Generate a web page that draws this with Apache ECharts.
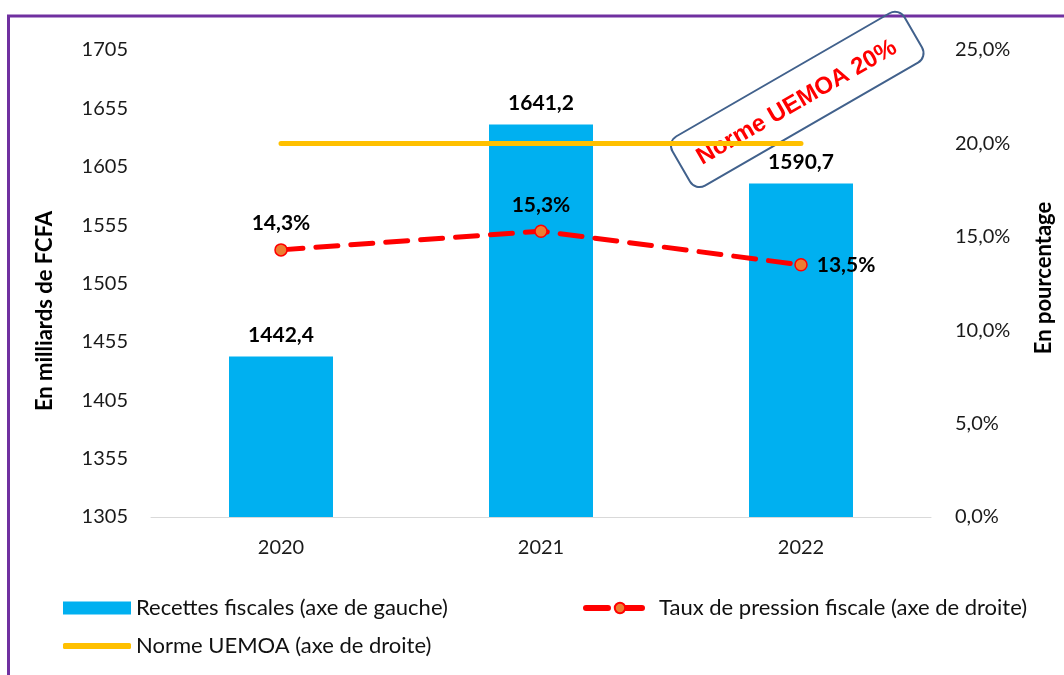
<!DOCTYPE html>
<html>
<head>
<meta charset="utf-8">
<script src="https://cdn.jsdelivr.net/npm/echarts@6/dist/echarts.min.js"></script>
<style>
  html, body { margin: 0; padding: 0; background: #fff; }
  #chart { width: 1064px; height: 675px; }
</style>
</head>
<body>
<div id="chart"></div>
<script>
var years = ['2020', '2021', '2022'];
var recettes = [1442.4, 1641.2, 1590.7];
var taux = [14.3, 15.3, 13.5];
var norme = [20, 20, 20];
var tauxLabelPos = ['top', 'top', 'right'];

var fr = function (v, d) { return v.toFixed(d).replace('.', ','); };

var chart = echarts.init(document.getElementById('chart'));
var font = 'Lato, "Liberation Sans", sans-serif';

var option = {
    textStyle: { fontFamily: font },
    animation: false,
    grid: { left: 151, right: 133, top: 50, bottom: 158 },
    legend: [{
        data: [{ name: 'Recettes fiscales (axe de gauche)', icon: 'rect' }],
        left: 63, top: 597, padding: 0, itemWidth: 68, itemHeight: 13, itemGap: 8,
        textStyle: { fontSize: 22, color: '#111', fontFamily: font }
    }, {
        data: ['Taux de pression fiscale (axe de droite)'],
        left: 583, top: 597, padding: 0, itemWidth: 68, itemHeight: 13, itemGap: 8,
        lineStyle: { width: 6, type: [22, 12], cap: 'round' },
        textStyle: { fontSize: 22, color: '#111', fontFamily: font }
    }, {
        data: [{ name: 'Norme UEMOA (axe de droite)', icon: 'roundRect' }],
        left: 63, top: 635, padding: 0, itemWidth: 68, itemHeight: 6, itemGap: 8,
        textStyle: { fontSize: 22, color: '#111', fontFamily: font }
    }],
    xAxis: {
        type: 'category',
        data: years,
        axisLine: { lineStyle: { color: '#d9d9d9', width: 1 } },
        axisTick: { show: false },
        axisLabel: { fontSize: 20, color: '#1a1a1a', margin: 21 }
    },
    yAxis: [{
        type: 'value', min: 1305, max: 1705, interval: 50,
        axisLine: { show: false }, axisTick: { show: false },
        splitLine: { show: false },
        axisLabel: { fontSize: 20, color: '#1a1a1a', margin: 23,
            formatter: function (v) { return String(v); } }
    }, {
        type: 'value', min: 0, max: 25, interval: 5,
        axisLine: { show: false }, axisTick: { show: false },
        splitLine: { show: false },
        axisLabel: { fontSize: 20, color: '#1a1a1a', margin: 24,
            formatter: function (v) { return fr(v, 1) + '%'; } }
    }],
    series: [{
        name: 'Recettes fiscales (axe de gauche)',
        type: 'bar',
        data: recettes,
        barWidth: '40%',
        itemStyle: { color: '#00B0F0' },
        label: {
            show: true, position: 'top', distance: 11,
            fontSize: 21, fontWeight: 'bold', color: '#000',
            formatter: function (p) { return fr(p.value, 1); }
        }
    }, {
        name: 'Norme UEMOA (axe de droite)',
        type: 'line',
        yAxisIndex: 1,
        data: norme,
        symbol: 'none',
        lineStyle: { color: '#FFC000', width: 5, cap: 'round' },
        itemStyle: { color: '#FFC000' }
    }, {
        name: 'Taux de pression fiscale (axe de droite)',
        type: 'line',
        yAxisIndex: 1,
        data: taux.map(function (v, i) {
            return { value: v, label: { position: tauxLabelPos[i] } };
        }),
        symbol: 'circle',
        symbolSize: 12,
        lineStyle: { color: '#FF0000', width: 5, type: [22, 13], cap: 'round' },
        itemStyle: { color: '#ED7D31', borderColor: '#FF0000', borderWidth: 1.5 },
        label: {
            show: true, distance: 9,
            fontSize: 21, fontWeight: 'bold', color: '#000',
            formatter: function (p) { return fr(p.value, 1) + '%'; }
        },
        z: 5
    }],
    graphic: [{
        type: 'line', shape: { x1: 8.5, y1: 16, x2: 8.5, y2: 675 },
        style: { stroke: '#7030A0', lineWidth: 3 }
    }, {
        type: 'line', shape: { x1: 7, y1: 16, x2: 1064, y2: 16 },
        style: { stroke: '#7030A0', lineWidth: 3 }
    }, {
        type: 'text', x: 45, y: 311, rotation: Math.PI / 2,
        style: { text: 'En milliards de FCFA', font: 'bold 22px ' + font,
            fill: '#000', align: 'center', verticalAlign: 'middle' }
    }, {
        type: 'text', x: 1044, y: 278, rotation: Math.PI / 2,
        style: { text: 'En pourcentage', font: 'bold 22px ' + font,
            fill: '#000', align: 'center', verticalAlign: 'middle' }
    }, {
        type: 'group', x: 797, y: 99, rotation: Math.PI / 6, z: 10,
        children: [{
            type: 'rect',
            shape: { x: -134, y: -28, width: 268, height: 57, r: 11 },
            style: { fill: 'none', stroke: '#41618C', lineWidth: 2 }
        }, {
            type: 'text', x: -2, y: 3,
            style: { text: 'Norme UEMOA 20%', font: 'bold 24px "Liberation Sans", Arial, sans-serif',
                fill: '#FF0000', align: 'center', verticalAlign: 'middle' }
        }]
    }]
};

chart.setOption(option);
</script>
</body>
</html>
